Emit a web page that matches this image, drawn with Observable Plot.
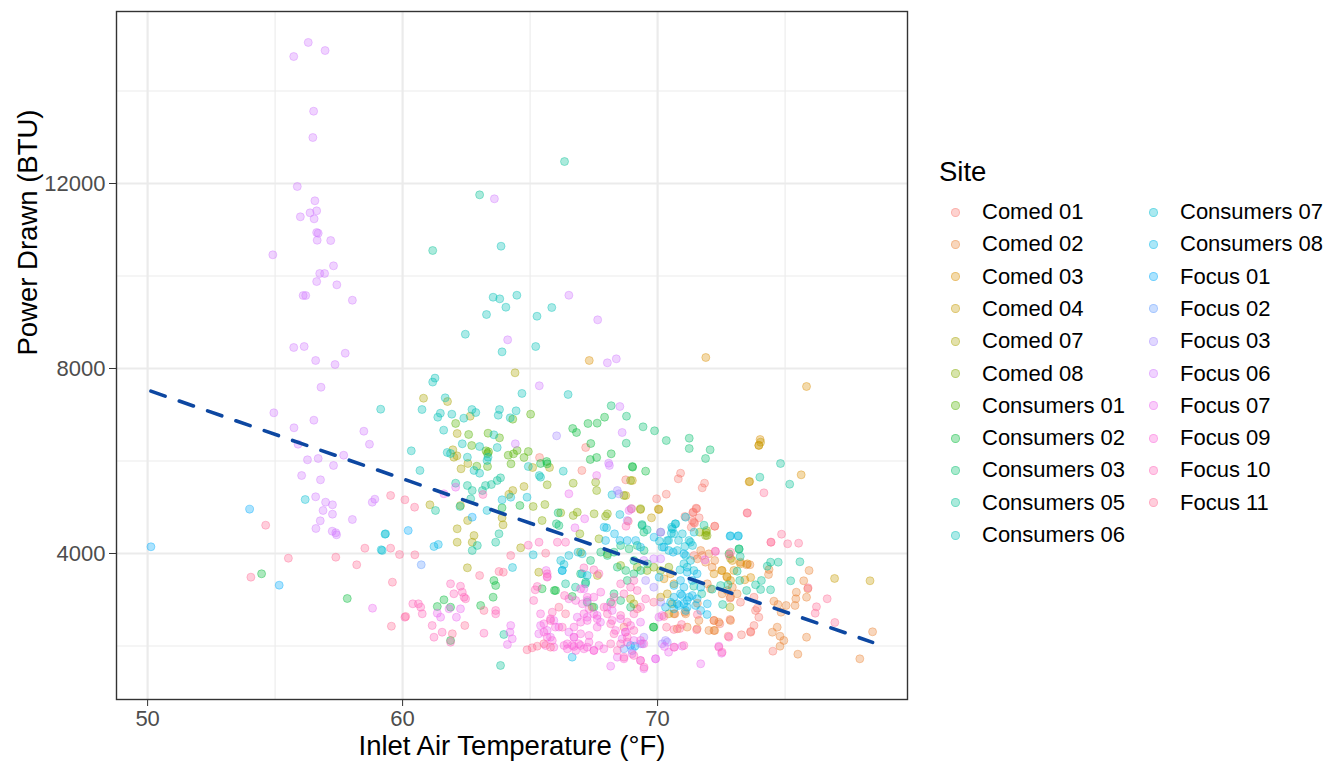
<!DOCTYPE html>
<html>
<head>
<meta charset="utf-8">
<script src="https://cdn.jsdelivr.net/npm/d3@7"></script>
<script src="https://cdn.jsdelivr.net/npm/@observablehq/plot@0.6"></script>
<style>
html, body { margin: 0; padding: 0; background: #fff; }
#wrap { position: relative; width: 1340px; height: 762px; font-family: "Liberation Sans", Arial, sans-serif; overflow: hidden; }
#wrap svg { position: absolute; left: 0; top: 0; }
.lg-title { position: absolute; left: 939px; top: 156px; font-size: 27.5px; color: #000; }
.lg-row { position: absolute; height: 32px; display: flex; align-items: center; font-size: 22px; color: #000; white-space: nowrap; }
.lg-key { width: 9px; height: 9px; border-radius: 50%; box-sizing: border-box; margin-right: 22px; }
</style>
</head>
<body>
<div id="wrap"></div>
<script>
// ---------------- data (Inlet temperature °F, Power drawn BTU) ----------------
const sites = ["Comed 01","Comed 02","Comed 03","Comed 04","Comed 07","Comed 08",
  "Consumers 01","Consumers 02","Consumers 03","Consumers 05","Consumers 06","Consumers 07","Consumers 08",
  "Focus 01","Focus 02","Focus 03","Focus 06","Focus 07","Focus 09","Focus 10","Focus 11"];

const comed01 = [[65.37,6076],[67.03,5795],[67.18,6292],[70.9,5736],[70.81,5615],[71.84,5520],[71.75,5420],[70.34,5282],[69.96,5183],[73.51,4880],[71.51,4980],[71.38,4886],[71.63,4772],[71.42,4677],[71.07,4800],[71.32,4569],[72.24,4590],[68.75,5593],[73.97,2623],[73.78,2443],[73.65,2298],[73.84,2768],[74.52,1888],[72.84,3034],[73.25,2947],[73.78,3055],[73.91,2817],[72.21,2551],[72.44,2480],[72.84,2573],[72.77,2212],[73.29,2242],[73.65,2314],[71.4,4894],[71.53,4966],[71.36,4713],[71.45,4656],[72.24,4591],[69.2,2804],[68.68,2408],[71.75,3957],[71.43,3957]];
const comed02 = [[71.69,4065],[72.01,3993],[72.24,3849],[72.14,3704],[71.88,3812],[71.56,3885],[73.25,3812],[73.49,3756],[73.62,3756],[74.37,3654],[74.35,3546],[75.94,3632],[75.73,3410],[75.44,3163],[75.84,3055],[75.42,3021],[75.89,3237],[74.56,2969],[74.72,2897],[75.04,2876],[75.39,2876],[74.84,2731],[74.5,2298],[74.69,2407],[74.8,2212],[74.95,2119],[74.8,1996],[75.84,2190],[75.5,1823],[77.93,1723],[78.43,2307],[70.68,2696],[71.07,2731],[71.56,2925],[72.86,2551],[72.24,2335],[70.64,2696],[71.1,2696],[70.77,2372],[71.16,2408],[71.55,2372],[71.62,2552],[72.01,2336],[72.21,2552],[72.4,2516],[72.21,2336],[71.95,3345],[72.08,3236],[72.73,3200],[72.93,3272],[73.12,3128],[72.86,3056],[72.53,3128]];
const comed03 = [[67.32,8173],[71.89,8238],[75.84,7611],[74.02,6465],[73.97,6342],[75.63,5701],[73.59,5550],[72.51,3632],[72.71,3503],[72.86,3416],[73.42,3431],[73.65,3481],[73.25,3776],[73.52,3776],[72.93,3848],[72.21,3561],[72.53,3633],[72.99,3633],[72.73,3489],[70.25,3453],[70.51,3561],[70.64,3345]];
const comed04 = [[73.61,5557],[73.97,6335],[74.04,6407],[76.94,3460],[78.33,3410],[69.01,5578],[70.03,4958],[69.76,4772],[68.75,5254],[69.33,4951],[70.05,4951],[70.38,3128],[70.12,3056],[70.57,2912],[70.44,2696]];
const comed07 = [[64.41,7907],[60.82,7357],[61.76,7286],[62.65,6968],[62.14,6594],[61.97,6242],[62.13,6112],[62.01,6082],[62.56,5946],[62.29,5831],[65.1,5859],[65.76,5859],[61.07,5053],[62.27,5038],[62.55,4713],[64.76,5448],[64.32,5362],[64.17,5276],[63.9,4772],[63.94,4620],[62.14,4534],[62.14,4244],[62.8,4389],[62.73,4244],[64.63,4123],[62.54,3691],[65.34,3596],[72.86,3892],[72.84,2839],[66.98,4029],[67.64,3525],[68.94,3020],[69.07,2912],[67.44,2840]];
const comed08 = [[67.57,5541],[67.61,5362],[68.68,5254],[68.94,5578],[65.67,5485],[66.69,5520],[65.12,5016],[65.47,4713],[65.58,5059],[66.2,4880],[66.69,4822],[66.85,4893],[66.95,4426],[67.51,4858],[67.96,4807],[68.03,4858],[69.33,4966],[71.65,4461],[71.92,4497],[71.88,4389],[71.9,4454],[71.94,4389],[67.7,4318],[68.03,3993],[68.55,3741],[69.2,3705],[69.85,3704],[69.59,3632],[70.12,3632],[70.44,3704]];
const consumers01 = [[62.08,6812],[62.59,6573],[63.35,6601],[63.8,6501],[62.71,6335],[63.27,6220],[63.37,6199],[63.33,6162],[64.14,6125],[64.35,6155],[64.49,6227],[64.93,6205],[64.76,6076],[64.25,5939],[62.91,5888],[63.33,5881],[64.32,6904],[65.02,7012]];
const consumers02 = [[65.41,5946],[65.65,5989],[65.67,5939],[69.02,5867],[69.53,5780],[67.38,6378],[67.36,6032],[67.61,6076],[68.18,6155],[66.67,6703],[66.82,6616],[67.27,6811],[67.63,6818],[67.92,6947],[69.01,5881],[54.47,3561],[57.83,3027],[63.9,4988],[64.6,5038],[63.58,3416],[63.65,3308],[63.55,3055],[63.06,2876],[65.47,3237],[65.95,3200],[61.62,2999],[61.36,2854],[61.88,2839],[61.88,2119],[69.83,2407],[66.0,3200],[66.65,3071],[69.85,2408],[72.8,3993],[73.19,4101]];
const consumers03 = [[68.18,7195],[68.78,6968],[69.43,6739],[68.77,6385],[69.88,6653],[70.34,6443],[71.24,6493],[71.24,6270],[72.06,6242],[71.88,6054],[66.1,4880],[66.03,4642],[66.13,4605],[69.39,4605],[69.46,4461],[67.18,3381],[67.37,3849],[67.77,4029],[68.03,3957],[68.29,4029],[68.55,4173],[68.88,4101],[69.2,4173],[69.47,4065],[68.42,3705],[68.75,3633],[69.07,3561],[69.34,3633],[69.6,3777],[69.07,3849],[68.81,3417],[68.29,3128],[68.55,2984],[68.94,2840],[68.16,2948],[67.24,2948],[67.5,2840],[66.98,3561]];
const consumers05 = [[66.35,12475],[63.02,11755],[61.18,10551],[62.08,5520],[62.54,5470],[62.73,5362],[63.13,5362],[63.25,5470],[63.48,5492],[63.71,5578],[63.84,5636],[74.82,5946],[74.01,5650],[75.18,5498],[69.39,4627],[69.59,4512],[71.82,4612],[73.2,4093],[73.24,3935],[74.43,3812],[74.3,3726],[74.73,3812],[75.58,3821],[73.12,3617],[73.22,3416],[73.84,3323],[74.04,3222],[74.43,3215],[74.07,3416],[75.22,3410],[72.55,2897],[71.42,3293],[71.73,3129],[72.14,3228],[72.47,3308],[72.76,3323],[73.49,3200],[66.39,3345],[66.78,3272],[67.17,3345],[63.97,2249],[63.84,1579],[61.29,4930],[62.25,5016],[62.67,5182],[62.93,4173],[62.73,4065],[63.65,4244],[63.78,4426]];
const consumers06 = [[63.55,9541],[63.81,9506],[64.48,9584],[64.05,9325],[63.29,9167],[65.85,9318],[65.27,9130],[62.46,8741],[63.9,8360],[65.22,8475],[61.27,7792],[61.18,7706],[64.68,7461],[66.49,7438],[61.67,7366],[60.76,7113],[61.48,7033],[61.38,6947],[61.93,7012],[62.4,6925],[62.72,7113],[62.87,7048],[63.8,7113],[63.75,6990],[64.22,6934],[64.45,7085],[61.61,6667],[63.58,6566],[62.34,6372],[63.02,6313],[63.71,6292],[60.34,6220],[61.75,6184],[61.88,6162],[62.54,6082],[63.31,6011],[63.35,6082],[62.8,5795],[63.02,5736],[60.68,5795],[64.93,5881],[65.36,5686],[65.41,5650],[66.3,5780],[59.14,7120],[63.86,10644]];
const consumers07 = [[72.86,4383],[73.17,4383],[66.26,3632],[66.33,3763],[65.12,3972],[66.2,3849],[66.52,3957],[66.88,4028],[67.04,3993],[64.31,3697],[59.33,4426],[59.2,4065],[63.31,4930],[63.9,5161],[64.24,5217],[64.88,5217],[59.16,4080],[59.31,4417],[56.18,5167],[67.04,3561],[67.24,3525],[70.07,4266],[70.43,4281],[70.82,4281],[71.29,4244],[71.37,4173],[71.07,4151],[70.77,4065],[70.44,4065],[70.18,4137],[71.1,3957],[71.29,3849],[71.03,3777],[70.88,3648],[71.16,3704],[71.42,3632],[70.55,4569],[70.69,4642],[70.54,4439],[70.64,4426],[70.71,4641],[70.58,4533],[71.1,4785],[70.97,4425],[71.43,4461],[71.23,4281],[70.38,4281],[70.12,4461],[68.21,5268],[68.52,4843],[68.0,4555]];
const consumers08 = [[69.86,4353],[70.25,4137],[70.61,4029],[71.03,3993],[67.9,4569],[68.31,4425],[67.96,4281],[68.52,4281],[68.81,4281],[69.14,4281],[69.33,4137],[70.64,3308],[70.9,3416],[70.64,3055],[70.96,3092],[71.36,3092],[71.16,2984],[70.83,2876],[71.03,2912],[70.51,2947],[70.31,2839],[70.06,3488],[71.94,2681],[71.16,3597],[71.55,3561],[71.36,3417],[71.69,3272],[71.03,3272],[70.9,3128],[71.23,3056],[71.55,3020],[70.77,2912],[71.16,2840],[71.49,2876],[71.95,2912],[70.64,2804],[71.1,2768],[71.69,2768],[69.11,1997],[61.23,4151],[61.4,4195],[66.65,1759],[66.26,3632],[72.84,4375],[73.15,4375]];
const focus01 = [[50.13,4145],[54.0,4958],[55.16,3315],[60.22,4497],[62.73,4785],[68.94,2011]];
const focus02 = [[60.73,3756],[68.68,1939],[69.0,1900]];
const focus03 = [[66.04,6544],[69.4,2047],[70.18,2047],[70.31,2119],[70.38,2083],[68.48,5290],[68.42,5362],[69.46,2190],[69.33,2048],[68.81,4713],[68.96,4966],[69.53,3416],[69.85,3271],[70.12,2947]];
const focus06 = [[56.3,15050],[55.73,14745],[56.96,14875],[56.51,13563],[56.48,12994],[55.87,11935],[56.56,11626],[56.37,11366],[56.63,11409],[55.99,11280],[56.53,11236],[56.63,10940],[56.69,10925],[56.65,10773],[57.18,10767],[54.91,10458],[57.29,10220],[56.75,10054],[56.94,10054],[56.63,9880],[57.42,9809],[56.1,9578],[56.2,9578],[58.03,9476],[55.73,8454],[56.14,8475],[57.75,8330],[56.59,8173],[57.35,8086],[56.8,7595],[54.95,7042],[56.52,6882],[55.74,6718],[58.48,6644],[55.9,6363],[58.7,6363],[57.69,6125],[56.27,6026],[56.69,6054],[57.29,5903],[56.04,5686],[56.78,5593],[56.59,5226],[56.98,5109],[57.25,5053],[56.88,4930],[57.25,4850],[56.77,4707],[56.6,4541],[57.24,4482],[57.41,4404],[57.38,4448],[58.03,4735],[58.81,5109],[58.91,5174],[63.6,11669],[66.52,9584],[67.65,9052],[64.12,8620],[68.03,8123],[68.38,8209],[65.36,7627],[68.08,5953],[68.11,5903],[68.61,6616],[64.42,6372],[68.52,7178],[69.85,3885],[69.46,3849],[70.12,3885]];
const focus07 = [[58.82,2817],[61.62,5291],[62.08,5434],[66.52,5291],[67.14,4750],[66.76,4556],[65.67,3503],[65.63,3632],[61.36,2709],[61.49,2623],[61.82,2804],[62.11,2623],[62.27,2804],[64.24,2443],[64.21,2298],[64.3,2156],[64.11,2032],[65.34,2264],[65.8,2190],[65.67,2335],[65.41,2443],[65.93,2551],[70.96,1996],[70.66,1974],[70.43,1866],[70.27,1989],[71.69,1615],[72.4,1996],[72.51,1844],[69.92,1723],[69.46,1507],[67.61,5686],[72.27,4043],[71.86,3863],[70.12,4461],[68.88,4930],[68.16,1564],[70.05,2624],[70.18,2660],[69.33,2516],[67.11,3236],[67.24,2984],[66.85,2624],[67.24,2624],[67.63,2660],[67.76,2516],[68.02,2840],[68.22,2768],[68.55,2588],[68.74,2300],[69.07,2119],[68.61,2155],[69.0,1831],[68.42,1759],[69.33,1687],[69.92,1723],[66.13,2408],[66.52,2300],[66.72,2191]];
const focus09 = [[66.46,2047],[66.65,2011],[66.79,1903],[66.98,2011],[67.24,1975],[67.5,1903],[66.72,2191],[66.98,2264],[67.31,2228],[67.63,2408],[66.72,2408],[66.98,2516],[67.24,2552],[67.5,2696],[67.63,2588],[67.11,2696],[67.31,2804],[67.05,2912],[66.79,2984],[66.52,3020],[67.24,3056],[66.98,3236],[67.5,3056],[67.77,3164],[65.54,2480],[65.41,2696],[65.8,2588],[65.99,2408],[65.54,2300],[65.67,2191],[65.87,2119],[65.61,2011],[65.93,1975],[66.33,2011],[66.46,1939],[66.72,1989],[66.91,2047],[67.11,1939],[67.31,2083],[67.5,1903],[67.7,2011],[67.89,1939],[68.22,2552],[68.35,2336],[68.74,2300],[68.94,2444],[68.81,2083],[69.33,2119],[69.46,2047],[68.68,1723]];
const focus10 = [[67.9,2840],[68.03,2696],[68.16,2480],[68.29,2264],[68.16,2047],[68.42,1903],[68.68,1759],[69.07,1795],[69.47,1543],[69.33,1687],[68.55,2047],[68.81,2191],[69.07,2336],[68.81,2516],[68.55,2660],[69.07,2696],[69.33,2840],[69.53,3020],[69.2,3200],[68.29,3056],[68.68,3128],[68.94,3272],[68.55,3344],[69.07,3416],[68.22,2912],[65.67,3561],[65.67,3489],[66.35,3092],[67.11,3690],[67.5,3647],[67.7,3561],[63.15,5276],[68.76,4590],[64.93,4180],[65.35,4244],[66.07,4244],[66.39,4244],[65.28,3287],[65.2,3215],[65.14,2984],[61.88,3345],[62.27,3293],[62.34,3163],[62.01,3129],[62.41,3055],[62.47,3021],[60.4,2912],[60.62,2912],[60.71,2839],[60.77,2696],[60.09,2623],[61.16,2443],[61.23,2190],[61.55,2298],[61.88,2082],[63.19,2277],[63.65,2768],[63.65,2696],[65.87,2731],[65.8,2551],[66.26,2407],[70.64,1975],[71.03,2011],[72.8,2191],[72.4,1975],[72.53,1867]];
const focus11 = [[54.63,4612],[55.52,3898],[57.38,3920],[58.52,4115],[54.05,3488],[58.2,3756],[59.53,5254],[60.09,5161],[60.47,5001],[59.53,4115],[59.88,3978],[60.48,3972],[59.6,3380],[60.12,2638],[59.56,2428],[63.95,3596],[63.78,3611],[63.02,3524],[64.24,3957],[65.61,4007],[62.44,2443],[61.95,2264],[63.19,2768],[64.88,1918],[65.08,1961],[65.28,1996],[65.54,2048],[65.8,1974],[66.13,2839],[66.39,2696],[74.17,5312],[74.86,4417],[74.44,4244],[75.1,4210],[75.53,4223],[72.26,4050],[72.86,4028],[72.81,3957],[75.9,3258],[76.65,3021],[76.23,2848],[76.18,2709],[76.95,2508],[71.56,2681],[71.53,2350],[70.94,2465],[70.87,2378],[70.64,2357],[70.35,2407],[70.25,2638],[69.85,2947],[73.52,4872],[74.45,4245],[68.98,4966],[68.85,4699]];

const siteArrays = [comed01, comed02, comed03, comed04, comed07, comed08,
  consumers01, consumers02, consumers03, consumers05, consumers06, consumers07, consumers08,
  focus01, focus02, focus03, focus06, focus07, focus09, focus10, focus11];

// linear fit drawn in the reference (endpoints)
const fitTemp = [50.13, 78.43];
const fitPower = [7510, 2079];

const xTicks = [50, 60, 70];
const xMinorTicks = [55, 65, 75];
const yTicks = [4000, 8000, 12000];
const yMinorTicks = [2000, 6000, 10000, 14000];

const xLabel = "Inlet Air Temperature (°F)";
const yLabel = "Power Drawn (BTU)";
const legendTitle = "Site";

// ---------------- colours: ggplot2 default hue palette (polar LUV) ----------------
function hclHex(h, c, l) {
  const hr = h * Math.PI / 180;
  const U = c * Math.cos(hr), V = c * Math.sin(hr);
  const Y = l > 8 ? Math.pow((l + 16) / 116, 3) : l / 903.3;
  const Xn = 0.95047, Yn = 1, Zn = 1.08883;
  const den = Xn + 15 * Yn + 3 * Zn;
  const un = 4 * Xn / den, vn = 9 * Yn / den;
  const up = U / (13 * l) + un, vp = V / (13 * l) + vn;
  const X = Y * 9 * up / (4 * vp);
  const Z = Y * (12 - 3 * up - 20 * vp) / (4 * vp);
  const lin = [
    3.2404542 * X - 1.5371385 * Y - 0.4985314 * Z,
    -0.9692660 * X + 1.8760108 * Y + 0.0415560 * Z,
    0.0556434 * X - 0.2040259 * Y + 1.0572252 * Z
  ];
  return "#" + lin.map(v => {
    let g = v <= 0.0031308 ? 12.92 * v : 1.055 * Math.pow(v, 1 / 2.4) - 0.055;
    g = Math.max(0, Math.min(1, g));
    return Math.round(g * 255).toString(16).padStart(2, "0");
  }).join("");
}
const palette = sites.map((_, i) => hclHex(15 + i * 360 / sites.length, 100, 65));

// ---------------- build table ----------------
const rows = sites.flatMap((s, i) => siteArrays[i].map(([t, p]) => ({ site: s, temp: t, power: p })));
const fitRows = fitTemp.map((t, i) => ({ temp: t, power: fitPower[i] }));

const FONT = "'Liberation Sans', Arial, sans-serif";
const plot = Plot.plot({
  width: 1340,
  height: 762,
  marginLeft: 116,
  marginRight: 433,
  marginTop: 11,
  marginBottom: 63,
  style: { fontFamily: FONT, background: "#ffffff", overflow: "visible" },
  x: { domain: [48.78, 79.8] },
  y: { domain: [843, 15719] },
  color: { domain: sites, range: palette },
  marks: [
    Plot.gridX(xMinorTicks, { stroke: "#ebebeb", strokeOpacity: 1, strokeWidth: 1.1 }),
    Plot.gridY(yMinorTicks, { stroke: "#ebebeb", strokeOpacity: 1, strokeWidth: 1.1 }),
    Plot.gridX(xTicks, { stroke: "#ebebeb", strokeOpacity: 1, strokeWidth: 2.2 }),
    Plot.gridY(yTicks, { stroke: "#ebebeb", strokeOpacity: 1, strokeWidth: 2.2 }),
    Plot.dot(rows, { x: "temp", y: "power", fill: "site", stroke: "site", r: 4, strokeWidth: 1, fillOpacity: 0.33, strokeOpacity: 0.38 }),
    Plot.line(fitRows, { x: "temp", y: "power", stroke: "#0D47A1", strokeWidth: 3.6, strokeDasharray: "15,15" }),
    Plot.frame({ stroke: "#333333", strokeWidth: 1.4 }),
    Plot.axisX(xTicks, { tickSize: 7, tickPadding: 4, fontSize: 22, stroke: "#333333", fill: "#4d4d4d", label: null }),
    Plot.axisY(yTicks, { tickSize: 7, tickPadding: 4, fontSize: 22, stroke: "#333333", fill: "#4d4d4d", label: null, tickFormat: d => String(d) }),
    Plot.text([xLabel], { text: d => d, frameAnchor: "bottom", dy: 47, lineAnchor: "middle", fontSize: 27.5, fill: "#000" }),
    Plot.text([yLabel], { text: d => d, frameAnchor: "left", dx: -88, rotate: -90, lineAnchor: "middle", fontSize: 27.5, fill: "#000" })
  ]
});

const wrap = document.getElementById("wrap");
wrap.appendChild(plot);

// ---------------- legend (colours taken from the plot's colour scale) ----------------
const cs = plot.scale("color");
const title = document.createElement("div");
title.className = "lg-title";
title.textContent = legendTitle;
wrap.appendChild(title);
const perCol = 11;
cs.domain.forEach((s, i) => {
  const col = Math.floor(i / perCol), rowI = i % perCol;
  const row = document.createElement("div");
  row.className = "lg-row";
  row.style.left = (951 + col * 198) + "px";
  row.style.top = (196 + rowI * 32.3) + "px";
  const key = document.createElement("span");
  key.className = "lg-key";
  const c = d3.color(cs.range[i]);
  const f = c.copy({ opacity: 0.33 });
  const st = c.copy({ opacity: 0.38 });
  key.style.background = f.formatRgb();
  key.style.border = "1px solid " + st.formatRgb();
  row.appendChild(key);
  const lab = document.createElement("span");
  lab.textContent = s;
  row.appendChild(lab);
  wrap.appendChild(row);
});
</script>
</body>
</html>
